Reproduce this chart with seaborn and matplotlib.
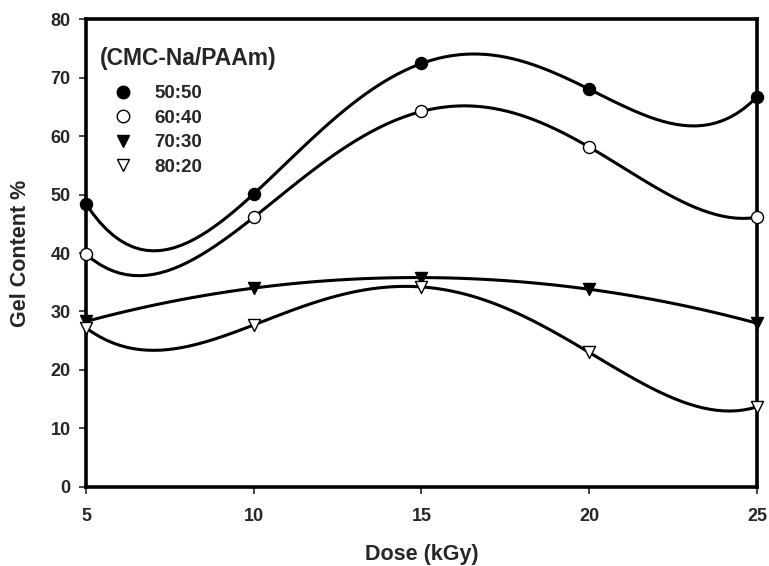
import numpy as np
import pandas as pd
import matplotlib
matplotlib.use("Agg")
import matplotlib.pyplot as plt
import seaborn as sns
from matplotlib.lines import Line2D

dose = [5, 10, 15, 20, 25]
series_names = ["50:50", "60:40", "70:30", "80:20"]
legend_title = "(CMC-Na/PAAm)"
gel_5050 = [48.4, 50.1, 72.4, 68.0, 66.7]
gel_6040 = [39.8, 46.1, 64.2, 58.1, 46.1]
gel_7030 = [28.3, 34.0, 35.8, 33.8, 28.0]
gel_8020 = [27.2, 27.7, 34.2, 23.0, 13.7]
x_ticks = [5, 10, 15, 20, 25]
y_ticks = [0, 10, 20, 30, 40, 50, 60, 70, 80]

series_values = [gel_5050, gel_6040, gel_7030, gel_8020]
markers = ["o", "o", "v", "v"]
facecolors = ["black", "white", "black", "white"]

sns.set_theme(style="ticks")
plt.rcParams["font.family"] = ["Liberation Sans", "DejaVu Sans"]
plt.rcParams["font.weight"] = "bold"

W, H = 769, 566
fig = plt.figure(figsize=(W / 100, H / 100), dpi=100)
ax = fig.add_axes([0.1118, 0.1396, 0.8726, 0.8268])

for name, vals, m, fc in zip(series_names, series_values, markers, facecolors):
    pts = pd.DataFrame({"x": dose, "y": vals})
    sns.regplot(data=pts, x="x", y="y", ax=ax, order=4, ci=None, scatter=False,
                color="black", line_kws={"lw": 2.2, "zorder": 2})
    sns.scatterplot(data=pts, x="x", y="y", ax=ax, marker=m, s=75,
                    facecolor=fc, edgecolor="black", linewidth=1.0,
                    zorder=3, clip_on=False)

ax.set_xlim(5, 25)
ax.set_ylim(0, 80)
ax.set_xticks(x_ticks)
ax.set_yticks(y_ticks)
ax.tick_params(axis="both", labelsize=13, width=1.2, length=5, direction="out")
ax.tick_params(axis="y", pad=6)
ax.tick_params(axis="x", pad=10)
for lab in ax.get_xticklabels() + ax.get_yticklabels():
    lab.set_fontweight("bold")
for sp in ax.spines.values():
    sp.set_linewidth(2.6)
    sp.set_color("black")

ax.set_xlabel("Dose (kGy)", fontsize=15.5, fontweight="bold", labelpad=14)
ax.set_ylabel("Gel Content %", fontsize=15.5, fontweight="bold", labelpad=14)

fig.text(100 / W, 1 - 58 / H, legend_title, fontsize=16.5, fontweight="bold",
         ha="left", va="center")

handles = [Line2D([], [], ls="none", marker=m, markersize=9, markerfacecolor=fc,
                  markeredgecolor="black", markeredgewidth=1.0)
           for m, fc in zip(markers, facecolors)]
leg = ax.legend(handles, series_names, loc="upper left",
                bbox_to_anchor=(100 / W, 1 - 85 / H),
                bbox_transform=fig.transFigure, borderpad=0, borderaxespad=0,
                frameon=False, fontsize=13.5,
                labelspacing=0.40, handlelength=2.45, handletextpad=0.45)
for t in leg.get_texts():
    t.set_fontweight("bold")

fig.savefig("out.png", dpi=100)
